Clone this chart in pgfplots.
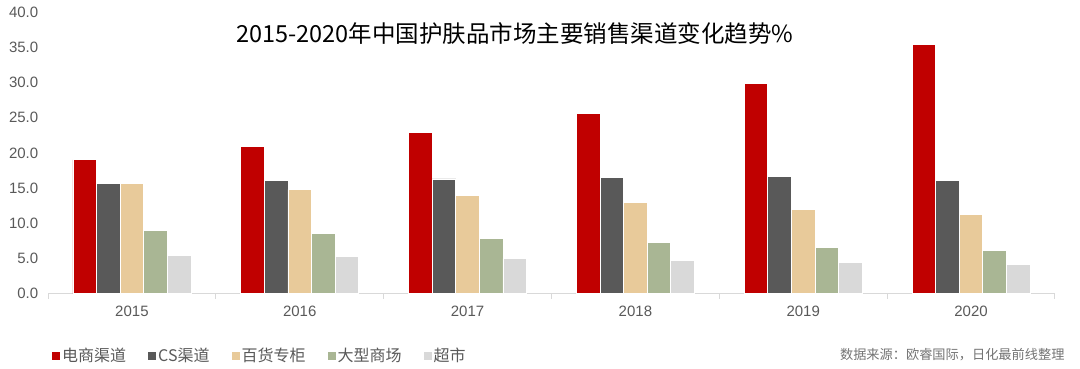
\documentclass[border=0pt]{standalone}
\usepackage{fontspec}
\setmainfont{Liberation Sans}
\newfontfamily\cjk{Noto Sans CJK SC}
\usepackage{pgfplots}
\pgfplotsset{compat=1.18}
\definecolor{cRed}{HTML}{C00000}
\definecolor{cDark}{HTML}{595959}
\definecolor{cTan}{HTML}{E8CA9A}
\definecolor{cGreen}{HTML}{A9B694}
\definecolor{cLight}{HTML}{D9D9D9}
\definecolor{txt}{HTML}{595959}
\begin{document}
\begin{tikzpicture}
\useasboundingbox (0,0) rectangle (1080pt,368pt);
\begin{axis}[
  at={(48pt,74.3pt)}, anchor=south west,
  scale only axis, width=1007pt, height=281.7pt,
  ymin=0, ymax=40, ytick={0,5,...,40},
  xmin=-0.5, xmax=5.5,
  xtick={0,1,2,3,4,5},
  xticklabels={2015,2016,2017,2018,2019,2020},
  minor xtick={-0.5,0.5,1.5,2.5,3.5,4.5,5.5},
  axis y line*=left, axis x line*=bottom,
  y axis line style={draw=none},
  x axis line style={draw=cLight, line width=1pt, -},
  major x tick style={draw=none},
  minor x tick style={draw=cLight, line width=1pt},
  minor tick length=5pt, tick align=outside,
  /pgf/number format/assume math mode=true,
  /pgf/number format/.cd, fixed, fixed zerofill, precision=1, /pgfplots/.cd,
  yticklabel style={font=\fontsize{15}{18}\selectfont, text=txt, xshift=-2pt},
  xticklabel style={font=\fontsize{15}{18}\selectfont, text=txt, yshift=-5pt},
  ytick style={draw=none},
  ybar=0pt, bar width=23.6pt,
  every axis plot/.append style={draw=white, line width=0.8pt},
  legend columns=5,
  legend style={at={(axis description cs:0.004,-0.22)}, anchor=west, draw=none, fill=none,
    font=\cjk\fontsize{16}{19}\selectfont, text=txt,
    /tikz/every even column/.append style={column sep=20pt}, inner sep=0pt},
  legend image code/.code={\fill[#1,draw=none] (0pt,-4pt) rectangle (8pt,4pt);},
  legend cell align=left,
  clip=false,
]
\addplot[fill=cRed] coordinates {(0,19.0) (1,20.9) (2,22.9) (3,25.6) (4,29.8) (5,35.4)};
\addplot[fill=cDark] coordinates {(0,15.7) (1,16.1) (2,16.3) (3,16.5) (4,16.7) (5,16.1)};
\addplot[fill=cTan] coordinates {(0,15.6) (1,14.8) (2,14.0) (3,13.0) (4,12.0) (5,11.2)};
\addplot[fill=cGreen] coordinates {(0,9.0) (1,8.5) (2,7.9) (3,7.3) (4,6.6) (5,6.2)};
\addplot[fill=cLight] coordinates {(0,5.4) (1,5.3) (2,5.0) (3,4.7) (4,4.4) (5,4.2)};
\legend{电商渠道,CS渠道,百货专柜,大型商场,超市}
\end{axis}
\node[font=\cjk\fontsize{23.5}{27}\selectfont, text=black] at (515pt,335pt) {2015-2020年中国护肤品市场主要销售渠道变化趋势\%};
\node[font=\cjk\fontsize{13.2}{16}\selectfont, text=black!55, anchor=east] at (1068pt,13pt) {数据来源：欧睿国际，日化最前线整理};
\end{tikzpicture}
\end{document}
